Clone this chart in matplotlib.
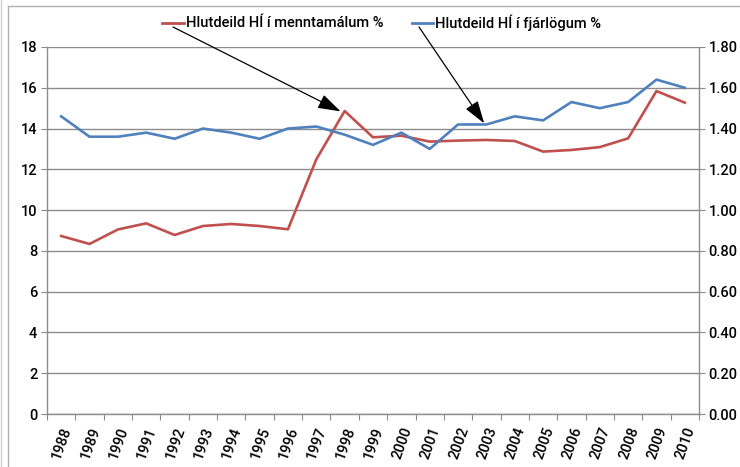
import numpy as np
import matplotlib
matplotlib.use("Agg")
import matplotlib.pyplot as plt
from matplotlib.lines import Line2D

plt.rcParams['font.family'] = ['Roboto', 'DejaVu Sans']
plt.rcParams['font.weight'] = 'medium'

years = list(range(1988, 2011))
# Hlutdeild HÍ í menntamálum % (left axis)
menntamal = [8.73, 8.34, 9.05, 9.35, 8.78, 9.22, 9.32, 9.22, 9.06, 12.49, 14.86, 13.57,
             13.65, 13.36, 13.41, 13.44, 13.39, 12.87, 12.95, 13.09, 13.52, 15.84, 15.27]
# Hlutdeild HÍ í fjárlögum % (right axis)
fjarlog = [1.46, 1.36, 1.36, 1.38, 1.35, 1.40, 1.38, 1.35, 1.40, 1.41, 1.37, 1.32,
           1.38, 1.30, 1.42, 1.42, 1.46, 1.44, 1.53, 1.50, 1.53, 1.64, 1.60]
left_ticks = [0, 2, 4, 6, 8, 10, 12, 14, 16, 18]
right_ticks = [0, 0.2, 0.4, 0.6, 0.8, 1.0, 1.2, 1.4, 1.6, 1.8]

red = '#C0504D'
blue = '#4F81BD'
grey = '#8c8c8c'

W, H = 740, 467
fig = plt.figure(figsize=(W / 100, H / 100), dpi=100)
ax = fig.add_axes([47 / W, 1 - 414 / H, (699 - 47) / W, (414 - 47) / H])
ax2 = ax.twinx()

x = np.arange(len(years))
ax.plot(x, menntamal, color=red, lw=1.9, zorder=3)
ax2.plot(x, fjarlog, color=blue, lw=1.9, zorder=3)

ax.set_xlim(-0.5, len(years) - 0.5)
ax.set_ylim(0, 18)
ax2.set_ylim(0, 1.8)

ax.set_yticks(left_ticks)
ax.set_yticklabels([str(v) for v in left_ticks])
ax2.set_yticks(right_ticks)
ax2.set_yticklabels(['%.2f' % v for v in right_ticks])

# tick marks between categories, labels at centers
ax.set_xticks(np.arange(-0.5, len(years), 1.0))
ax.set_xticklabels([])
ax.set_xticks(x, minor=True)
ax.set_xticklabels([str(y) for y in years], minor=True, rotation=70,
                   ha='right', va='top', rotation_mode='anchor')
ax.tick_params(axis='x', which='major', length=4, color=grey, direction='out')
ax.tick_params(axis='x', which='minor', length=0, pad=8, labelsize=10.5)
ax.tick_params(axis='y', length=4, color=grey, labelsize=10.5, pad=3)
ax2.tick_params(axis='y', length=4, color=grey, labelsize=10.5, pad=3)

ax.yaxis.grid(True, color=grey, lw=1)
ax.set_axisbelow(True)
for a in (ax, ax2):
    a.spines['top'].set_visible(False)
    for s in ('left', 'right', 'bottom'):
        a.spines[s].set_color(grey)
        a.spines[s].set_linewidth(1)
ax.spines['right'].set_visible(False)
ax2.spines['left'].set_visible(False)
ax2.spines['bottom'].set_visible(False)

# outer frame
fig.add_artist(Line2D([8 / W, 8 / W], [0, 1 - 6 / H], color='#b0b0b0', lw=1))
fig.add_artist(Line2D([8 / W, 1], [1 - 6 / H, 1 - 6 / H], color='#b0b0b0', lw=1))
fig.add_artist(Line2D([1 / W, 1 / W], [0, 1], color='#d0d0d0', lw=1))

# legend with arrows
ly = 1 - 23 / H
fig.add_artist(Line2D([162 / W, 184 / W], [ly, ly], color=red, lw=2))
fig.text(186 / W, ly, 'Hlutdeild HÍ í menntamálum %', fontsize=10.5,
         va='center', ha='left')
fig.add_artist(Line2D([412 / W, 433 / W], [ly, ly], color=blue, lw=2))
fig.text(435 / W, ly, 'Hlutdeild HÍ í fjárlögum %', fontsize=10.5,
         va='center', ha='left')

arrow = dict(arrowstyle='-|>,head_length=1.4,head_width=0.45', color='black',
             lw=0.9, shrinkA=0, shrinkB=1)
ax.annotate('', xy=(9.9, menntamal[10] - 0.05), xycoords='data',
            xytext=(173 / W, 1 - 27 / H), textcoords='figure fraction',
            arrowprops=arrow)
ax2.annotate('', xy=(14.95, fjarlog[15]), xycoords='data',
             xytext=(419 / W, 1 - 27 / H), textcoords='figure fraction',
             arrowprops=arrow)

fig.savefig('out.png', dpi=100)
